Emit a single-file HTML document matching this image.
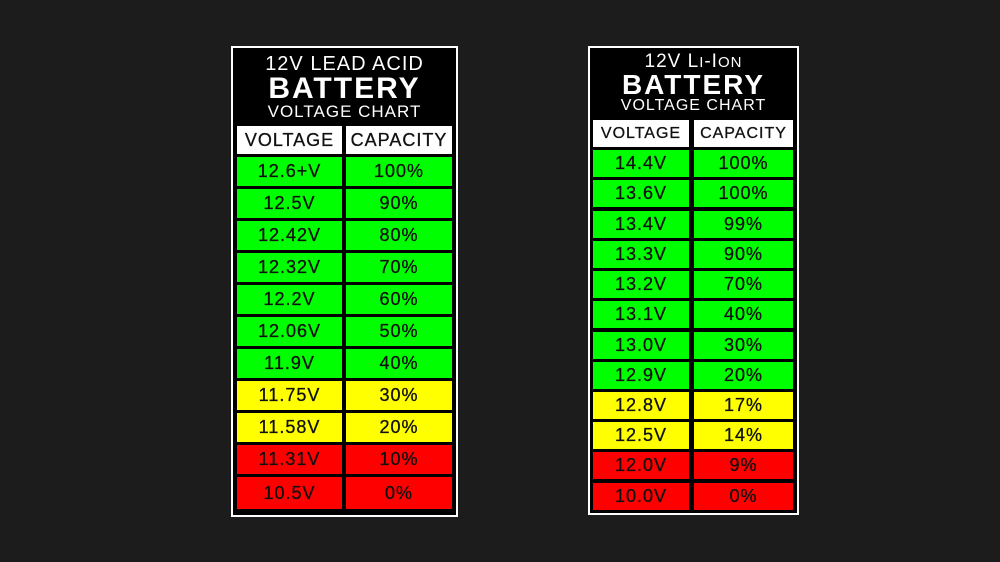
<!DOCTYPE html>
<html><head><meta charset="utf-8"><style>
body{margin:0;width:1000px;height:562px;background:#1c1c1c;position:relative;overflow:hidden;font-family:"Liberation Sans",sans-serif}
.b{position:absolute;background:#000;border:2px solid #fff;box-sizing:border-box}
.t{position:absolute;color:#fff;text-align:center;white-space:nowrap}
.c{position:absolute;box-sizing:border-box;text-align:center;color:#111;font-size:18px;letter-spacing:1px;-webkit-text-stroke:0.3px #111}
.g{background:#00ff00}.y{background:#ffff00}.r{background:#ff0000}.w{background:#fff}
</style></head><body>
<div class="b" style="left:231px;top:46px;width:227px;height:471px"></div>
<div class="t" style="left:231px;width:227px;top:53px;font-size:20px;letter-spacing:1px">12V LEAD ACID</div>
<div class="t" style="left:231px;width:227px;top:72px;font-size:30px;font-weight:bold;letter-spacing:2px">BATTERY</div>
<div class="t" style="left:231px;width:227px;top:102px;font-size:17px;letter-spacing:1px">VOLTAGE CHART</div>
<div class="c w" style="left:237px;top:126px;width:105px;height:28px;line-height:28px">VOLTAGE</div>
<div class="c w" style="left:346px;top:126px;width:106px;height:28px;line-height:28px">CAPACITY</div>
<div class="c g" style="left:237px;top:157px;width:105px;height:29px;line-height:29px">12.6+V</div><div class="c g" style="left:346px;top:157px;width:106px;height:29px;line-height:29px">100%</div>
<div class="c g" style="left:237px;top:189px;width:105px;height:29px;line-height:29px">12.5V</div><div class="c g" style="left:346px;top:189px;width:106px;height:29px;line-height:29px">90%</div>
<div class="c g" style="left:237px;top:221px;width:105px;height:29px;line-height:29px">12.42V</div><div class="c g" style="left:346px;top:221px;width:106px;height:29px;line-height:29px">80%</div>
<div class="c g" style="left:237px;top:253px;width:105px;height:29px;line-height:29px">12.32V</div><div class="c g" style="left:346px;top:253px;width:106px;height:29px;line-height:29px">70%</div>
<div class="c g" style="left:237px;top:285px;width:105px;height:29px;line-height:29px">12.2V</div><div class="c g" style="left:346px;top:285px;width:106px;height:29px;line-height:29px">60%</div>
<div class="c g" style="left:237px;top:317px;width:105px;height:29px;line-height:29px">12.06V</div><div class="c g" style="left:346px;top:317px;width:106px;height:29px;line-height:29px">50%</div>
<div class="c g" style="left:237px;top:349px;width:105px;height:29px;line-height:29px">11.9V</div><div class="c g" style="left:346px;top:349px;width:106px;height:29px;line-height:29px">40%</div>
<div class="c y" style="left:237px;top:381px;width:105px;height:29px;line-height:29px">11.75V</div><div class="c y" style="left:346px;top:381px;width:106px;height:29px;line-height:29px">30%</div>
<div class="c y" style="left:237px;top:413px;width:105px;height:29px;line-height:29px">11.58V</div><div class="c y" style="left:346px;top:413px;width:106px;height:29px;line-height:29px">20%</div>
<div class="c r" style="left:237px;top:445px;width:105px;height:29px;line-height:29px">11.31V</div><div class="c r" style="left:346px;top:445px;width:106px;height:29px;line-height:29px">10%</div>
<div class="c r" style="left:237px;top:477px;width:105px;height:32px;line-height:32px">10.5V</div><div class="c r" style="left:346px;top:477px;width:106px;height:32px;line-height:32px">0%</div>

<div class="b" style="left:588px;top:46px;width:211px;height:469px"></div>
<div class="t" style="left:588px;width:211px;top:51px;font-size:19px;letter-spacing:1px">12V L<span style="font-size:15px">I</span>-I<span style="font-size:15px">ON</span></div>
<div class="t" style="left:588px;width:211px;top:69px;font-size:28px;font-weight:bold;letter-spacing:2px">BATTERY</div>
<div class="t" style="left:588px;width:211px;top:97px;font-size:16px;letter-spacing:1px">VOLTAGE CHART</div>
<div class="c w" style="left:593px;top:120px;width:96px;height:27px;line-height:27px;font-size:16px">VOLTAGE</div>
<div class="c w" style="left:694px;top:120px;width:99px;height:27px;line-height:27px;font-size:16px">CAPACITY</div>
<div class="c g" style="left:593px;top:150px;width:96px;height:27px;line-height:27px">14.4V</div><div class="c g" style="left:694px;top:150px;width:99px;height:27px;line-height:27px">100%</div>
<div class="c g" style="left:593px;top:180px;width:96px;height:27px;line-height:27px">13.6V</div><div class="c g" style="left:694px;top:180px;width:99px;height:27px;line-height:27px">100%</div>
<div class="c g" style="left:593px;top:211px;width:96px;height:27px;line-height:27px">13.4V</div><div class="c g" style="left:694px;top:211px;width:99px;height:27px;line-height:27px">99%</div>
<div class="c g" style="left:593px;top:241px;width:96px;height:27px;line-height:27px">13.3V</div><div class="c g" style="left:694px;top:241px;width:99px;height:27px;line-height:27px">90%</div>
<div class="c g" style="left:593px;top:271px;width:96px;height:27px;line-height:27px">13.2V</div><div class="c g" style="left:694px;top:271px;width:99px;height:27px;line-height:27px">70%</div>
<div class="c g" style="left:593px;top:301px;width:96px;height:27px;line-height:27px">13.1V</div><div class="c g" style="left:694px;top:301px;width:99px;height:27px;line-height:27px">40%</div>
<div class="c g" style="left:593px;top:332px;width:96px;height:27px;line-height:27px">13.0V</div><div class="c g" style="left:694px;top:332px;width:99px;height:27px;line-height:27px">30%</div>
<div class="c g" style="left:593px;top:362px;width:96px;height:27px;line-height:27px">12.9V</div><div class="c g" style="left:694px;top:362px;width:99px;height:27px;line-height:27px">20%</div>
<div class="c y" style="left:593px;top:392px;width:96px;height:27px;line-height:27px">12.8V</div><div class="c y" style="left:694px;top:392px;width:99px;height:27px;line-height:27px">17%</div>
<div class="c y" style="left:593px;top:422px;width:96px;height:27px;line-height:27px">12.5V</div><div class="c y" style="left:694px;top:422px;width:99px;height:27px;line-height:27px">14%</div>
<div class="c r" style="left:593px;top:452px;width:96px;height:27px;line-height:27px">12.0V</div><div class="c r" style="left:694px;top:452px;width:99px;height:27px;line-height:27px">9%</div>
<div class="c r" style="left:593px;top:483px;width:96px;height:27px;line-height:27px">10.0V</div><div class="c r" style="left:694px;top:483px;width:99px;height:27px;line-height:27px">0%</div>
</body></html>
